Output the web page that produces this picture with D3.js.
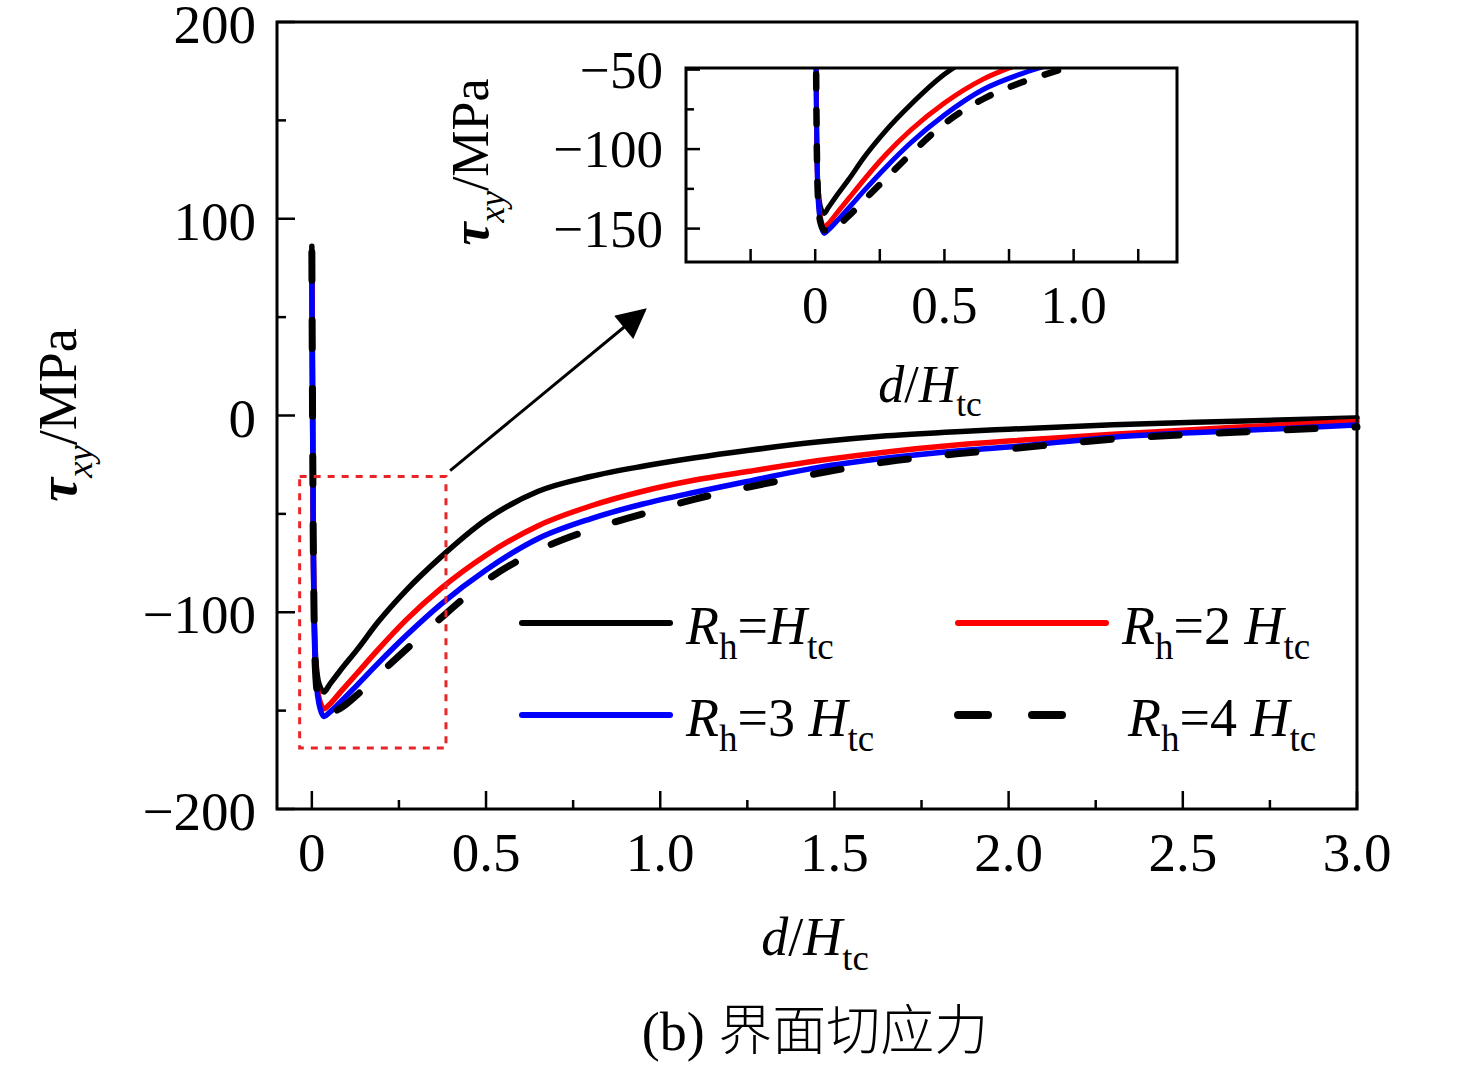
<!DOCTYPE html>
<html>
<head>
<meta charset="utf-8">
<script src="https://cdn.jsdelivr.net/npm/d3@7"></script>
<style>
  body { margin: 0; background: #fff; }
  text { font-family: "Liberation Serif", "Times New Roman", serif; fill: #000; }
</style>
</head>
<body>
<div id="chart"></div>
<script>
// d/Htc positions shared by all four curves
const dist = [0, 0.004, 0.01, 0.02, 0.035, 0.05, 0.08, 0.13, 0.19, 0.27, 0.37, 0.5, 0.65, 0.8, 0.95, 1.1, 1.25, 1.45, 1.65, 1.85, 2.0, 2.3, 2.65, 3.0];
// tau_xy (MPa)
const tauR1 = [86, -60, -120, -136, -140.5, -137, -130, -119, -105, -89, -72, -53, -38.5, -31, -25.8, -21.5, -17.8, -13.5, -10.3, -8.2, -7, -4.7, -2.9, -1.2];
const tauR2 = [79, -60, -125, -143, -149, -147, -141, -131, -119, -104, -88, -71, -56, -46, -38.5, -32.8, -28.5, -23, -18.5, -15, -13, -9.5, -6, -3];
const tauR3 = [77, -60, -128, -146, -153, -151, -146, -137, -126, -112, -96, -78.5, -62.5, -52.5, -45, -39, -33.5, -26.5, -21.6, -18, -16, -11, -7.8, -4.8];
const tauR4 = [83, -60, -128, -146, -151, -151, -149, -142, -132, -119, -103, -84, -68.5, -58, -50, -42.5, -36.5, -29.5, -23.5, -19.5, -17, -12, -8.5, -5.8];

const xTicks = [0, 0.5, 1.0, 1.5, 2.0, 2.5, 3.0];
const xTickLabels = ["0", "0.5", "1.0", "1.5", "2.0", "2.5", "3.0"];
const yTicks = [-200, -100, 0, 100, 200];
const yTickLabels = ["\u2212200", "\u2212100", "0", "100", "200"];
const insetXTicks = [0, 0.5, 1.0];
const insetXTickLabels = ["0", "0.5", "1.0"];
const insetYTicks = [-150, -100, -50];
const insetYTickLabels = ["\u2212150", "\u2212100", "\u221250"];

const series = [
  { prefix: "=", values: tauR1, color: "#000", dash: null },
  { prefix: "=2 ", values: tauR2, color: "#f00", dash: null },
  { prefix: "=3 ", values: tauR3, color: "#00f", dash: null },
  { prefix: "=4 ", values: tauR4, color: "#000", dash: "28,40" }
];

const W = 1476, H = 1068;
const svg = d3.select("#chart").append("svg").attr("width", W).attr("height", H);
const defs = svg.append("defs");

const x = d3.scaleLinear().domain([-0.1, 3.0]).range([277, 1357]);
const y = d3.scaleLinear().domain([-200, 200]).range([809, 22]);

function sub(t, s, size) {
  t.append("tspan").attr("font-size", size).attr("dy", size * 0.4).attr("font-style", "normal").text(s);
}

// main curves
const line = d3.line().x(d => x(d[0])).y(d => y(d[1])).curve(d3.curveMonotoneX);
series.forEach(s => {
  svg.append("path")
    .datum(dist.map((d, i) => [d, s.values[i]]))
    .attr("d", line)
    .attr("fill", "none")
    .attr("stroke", s.color)
    .attr("stroke-width", s.dash ? 7 : 5.5)
    .attr("stroke-linecap", "round")
    .attr("stroke-linejoin", "round")
    .attr("stroke-dasharray", s.dash);
});

// main frame
svg.append("rect")
  .attr("x", x(-0.1)).attr("y", y(200))
  .attr("width", x(3.0) - x(-0.1)).attr("height", y(-200) - y(200))
  .attr("fill", "none").attr("stroke", "#000").attr("stroke-width", 3);

// ticks (inward)
const g = svg.append("g").attr("stroke", "#000").attr("stroke-width", 2.5);
d3.range(0, 3.0001, 0.25).forEach(v => {
  const major = Math.abs(v * 2 - Math.round(v * 2)) < 1e-6;
  g.append("line").attr("x1", x(v)).attr("x2", x(v))
    .attr("y1", y(-200)).attr("y2", y(-200) - (major ? 18 : 9));
});
d3.range(-200, 200.1, 50).forEach(v => {
  const major = v % 100 === 0;
  g.append("line").attr("y1", y(v)).attr("y2", y(v))
    .attr("x1", x(-0.1)).attr("x2", x(-0.1) + (major ? 18 : 9));
});

xTicks.forEach((v, i) => {
  svg.append("text").attr("x", x(v)).attr("y", 871).attr("text-anchor", "middle")
    .attr("font-size", 55).text(xTickLabels[i]);
});
yTicks.forEach((v, i) => {
  svg.append("text").attr("x", 256).attr("y", y(v) + 21).attr("text-anchor", "end")
    .attr("font-size", 55).text(yTickLabels[i]);
});

// axis titles
function xTitle(cx, cy, size) {
  const t = svg.append("text").attr("x", cx).attr("y", cy).attr("text-anchor", "middle").attr("font-size", size);
  t.append("tspan").attr("font-style", "italic").text("d");
  t.append("tspan").text("/");
  t.append("tspan").attr("font-style", "italic").text("H");
  sub(t, "tc", size * 0.68);
  return t;
}
function yTitle(cx, cy, size) {
  const t = svg.append("text").attr("transform", `translate(${cx},${cy}) rotate(-90)`)
    .attr("text-anchor", "middle").attr("font-size", size);
  t.append("tspan").attr("font-style", "italic").attr("font-weight", "bold").text("\u03c4");
  t.append("tspan").attr("font-style", "italic").attr("font-size", size * 0.68).attr("dy", size * 0.3).text("xy");
  t.append("tspan").attr("dy", -size * 0.3).text("/MPa");
  return t;
}
xTitle(815, 955, 54);
yTitle(76, 415, 54);

// zoom box + arrow
svg.append("rect")
  .attr("x", x(-0.035)).attr("y", y(-31))
  .attr("width", x(0.385) - x(-0.035)).attr("height", y(-169) - y(-31))
  .attr("fill", "none").attr("stroke", "#e8262a").attr("stroke-width", 3)
  .attr("stroke-dasharray", "7,7");

defs.append("marker")
  .attr("id", "arrow").attr("viewBox", "0 0 10 10").attr("refX", 9).attr("refY", 5)
  .attr("markerWidth", 38).attr("markerHeight", 30).attr("markerUnits", "userSpaceOnUse")
  .attr("orient", "auto")
  .append("path").attr("d", "M0,0L10,5L0,10Z").attr("fill", "#000");
svg.append("line")
  .attr("x1", x(0.397)).attr("y1", y(-28))
  .attr("x2", x(0.955)).attr("y2", y(53.5))
  .attr("stroke", "#000").attr("stroke-width", 3)
  .attr("marker-end", "url(#arrow)");

// legend
const legendPos = [[522, 623], [958, 623], [522, 715], [958, 715]];
series.forEach((s, i) => {
  const [lx, ly] = legendPos[i];
  svg.append("line").attr("x1", lx).attr("x2", lx + 148).attr("y1", ly).attr("y2", ly)
    .attr("stroke", s.color).attr("stroke-width", s.dash ? 8 : 6)
    .attr("stroke-linecap", "round")
    .attr("stroke-dasharray", s.dash ? "30,44" : null);
  const tx = s.dash ? lx + 170 : lx + 164;
  const t = svg.append("text").attr("x", tx).attr("y", ly + 21).attr("font-size", 54);
  t.append("tspan").attr("font-style", "italic").text("R");
  t.append("tspan").attr("font-size", 37).attr("dy", 15).text("h");
  t.append("tspan").attr("dy", -15).text(s.prefix);
  t.append("tspan").attr("font-style", "italic").text("H");
  t.append("tspan").attr("font-size", 37).attr("dy", 15).text("tc");
});

// inset
const xi = d3.scaleLinear().domain([-0.5, 1.4]).range([686, 1177]);
const yi = d3.scaleLinear().domain([-171, -49]).range([262, 68]);
defs.append("clipPath").attr("id", "insetClip")
  .append("rect").attr("x", 686).attr("y", 68).attr("width", 491).attr("height", 194);
const lineI = d3.line().x(d => xi(d[0])).y(d => yi(d[1])).curve(d3.curveMonotoneX);
const gi = svg.append("g").attr("clip-path", "url(#insetClip)");
series.forEach(s => {
  gi.append("path")
    .datum(dist.map((d, i) => [d, s.values[i]]))
    .attr("d", lineI)
    .attr("fill", "none")
    .attr("stroke", s.color)
    .attr("stroke-width", s.dash ? 6.5 : 5)
    .attr("stroke-linecap", "round")
    .attr("stroke-linejoin", "round")
    .attr("stroke-dasharray", s.dash ? "14,22" : null);
});
svg.append("rect").attr("x", 686).attr("y", 68).attr("width", 491).attr("height", 194)
  .attr("fill", "none").attr("stroke", "#000").attr("stroke-width", 3);
const gt = svg.append("g").attr("stroke", "#000").attr("stroke-width", 2.5);
d3.range(-0.25, 1.26, 0.25).forEach(v => {
  gt.append("line").attr("x1", xi(v)).attr("x2", xi(v)).attr("y1", 262).attr("y2", 249);
});
d3.range(-150, -49, 25).forEach(v => {
  const major = v % 50 === 0;
  gt.append("line").attr("y1", yi(v)).attr("y2", yi(v)).attr("x1", 686).attr("x2", 686 + (major ? 14 : 8));
});
insetXTicks.forEach((v, i) => {
  svg.append("text").attr("x", xi(v)).attr("y", 323).attr("text-anchor", "middle")
    .attr("font-size", 53).text(insetXTickLabels[i]);
});
insetYTicks.forEach((v, i) => {
  svg.append("text").attr("x", 663).attr("y", yi(v) + 18).attr("text-anchor", "end")
    .attr("font-size", 53).text(insetYTickLabels[i]);
});
xTitle(930, 402, 52);
yTitle(488, 162, 52);

// caption
const cap = svg.append("text").attr("x", 815).attr("y", 1050).attr("text-anchor", "middle").attr("font-size", 54);
cap.append("tspan").text("(b) ");
cap.append("tspan").attr("font-family", "'Noto Sans CJK SC'").attr("font-weight", 300).text("界面切应力");
</script>
</body>
</html>
